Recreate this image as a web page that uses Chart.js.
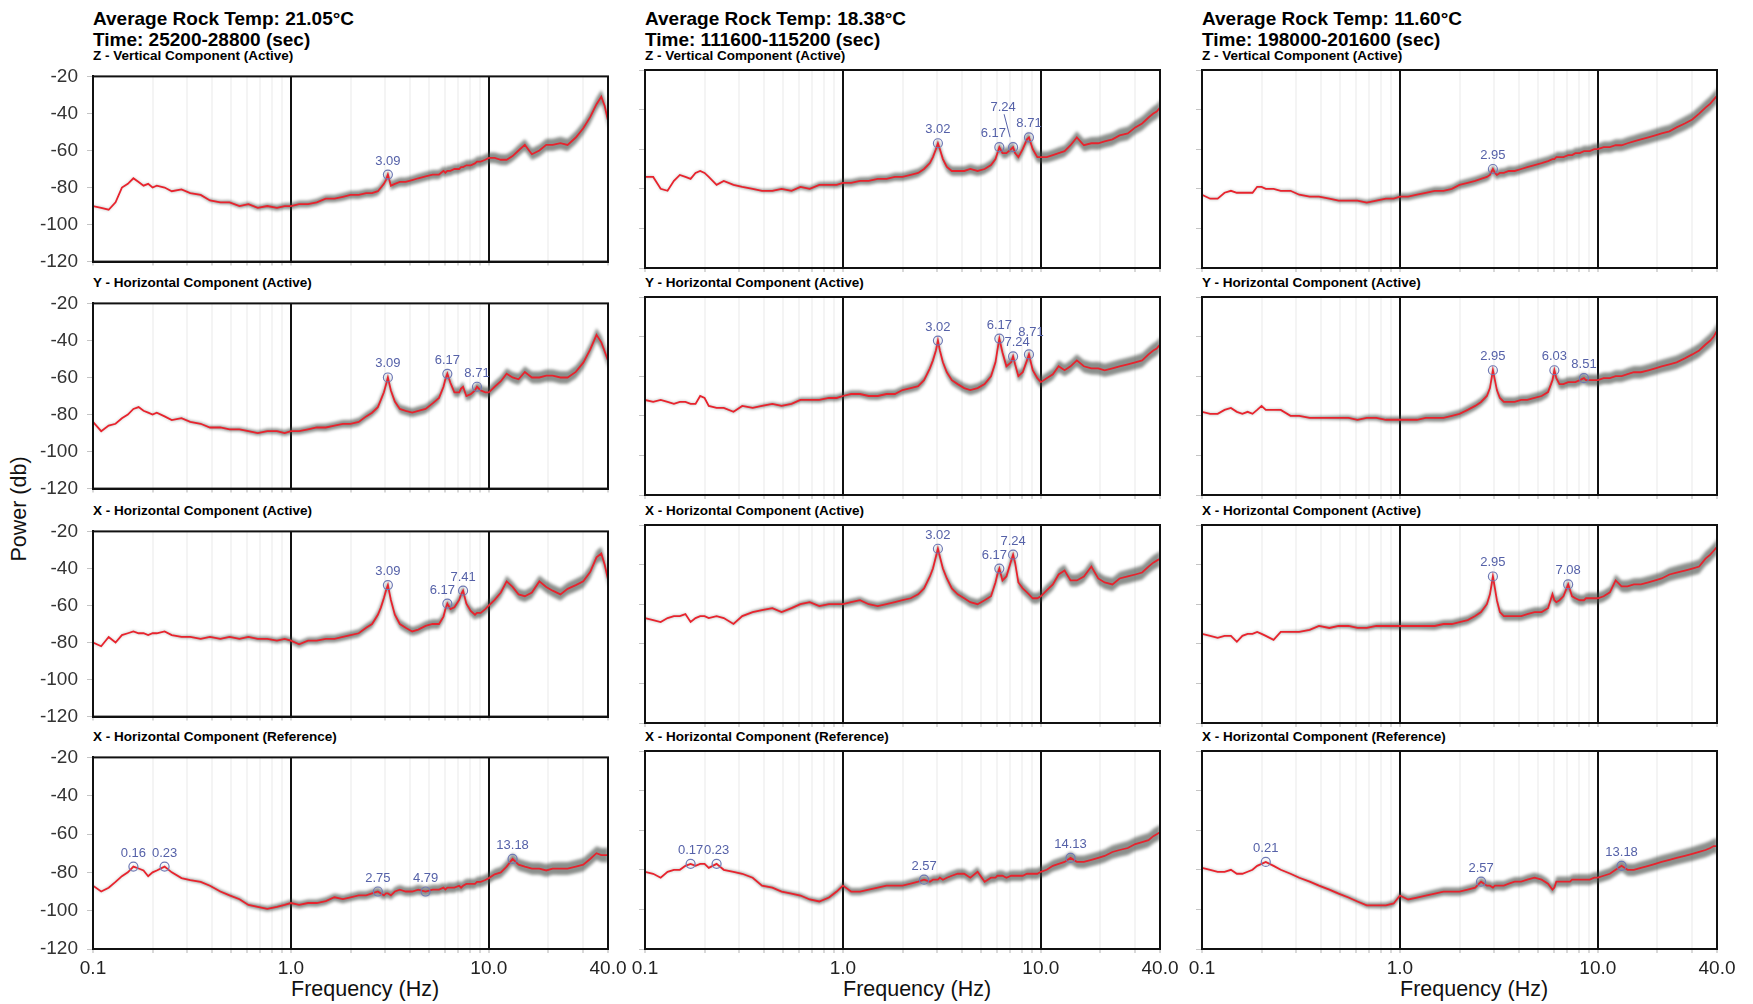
<!DOCTYPE html>
<html>
<head>
<meta charset="utf-8">
<title>Power spectra vs rock temperature</title>
<script src="https://cdn.jsdelivr.net/npm/chart.js@4.4.1/dist/chart.umd.min.js"></script>
<style>
	body { margin: 0; background: #fff; }
	#page { position: relative; width: 1753px; height: 1004px; overflow: hidden;
		font-family: "Liberation Sans", Arial, sans-serif; color: #000; }
	.txt { position: absolute; white-space: nowrap; line-height: 1; }
	.head { font-size: 19px; font-weight: bold; }
	.comp { font-size: 13.5px; font-weight: bold; }
	.axis { font-size: 21.5px; color: #111; }
	canvas { position: absolute; }
</style>
</head>
<body>
<div id="page"></div>

<script>
// frequency grid shared by every panel (Hz)
const FREQ = [
	0.10, 0.11, 0.12, 0.13, 0.14, 0.15, 0.16, 0.17, 0.18, 0.19, 0.20, 0.21, 0.23, 0.25, 0.28, 0.31, 0.35, 0.39, 0.44, 0.49, 0.55, 0.61, 0.68, 0.76, 0.85, 0.93,
	1.0, 1.1, 1.22, 1.35, 1.5, 1.66, 1.83, 2.0, 2.2, 2.4, 2.57, 2.75, 2.85, 2.95, 3.02, 3.09, 3.2, 3.35, 3.55, 3.8, 4.1, 4.4, 4.79, 5.2, 5.6, 5.9, 6.03, 6.17, 6.4, 6.7, 7.08, 7.24, 7.41, 7.7, 8.1, 8.51, 8.71, 9.1, 9.6,
	10, 10.7, 11.5, 12.3, 13.18, 14.13, 15.2, 16.5, 18, 19.5, 21, 23, 25, 27.5, 30, 32.5, 35, 37, 38.5, 40
];
// half width of the grey scatter of the single spectra around the mean (db)
const SPREAD = [
	0.3, 0.3, 0.3, 0.3, 0.3, 0.3, 0.3, 0.3, 0.3, 0.3, 0.3, 0.3, 0.3, 0.4, 0.5, 0.6, 0.7, 0.8, 0.9, 1.0, 1.1, 1.2, 1.3, 1.4, 1.5, 1.6,
	1.7, 1.8, 1.8, 1.9, 2.0, 2.0, 2.1, 2.1, 2.2, 2.2, 2.2, 2.3, 2.3, 2.3, 2.3, 2.3, 2.3, 2.4, 2.4, 2.4, 2.4, 2.5, 2.5, 2.5, 2.5, 2.5, 2.5, 2.6, 2.6, 2.6, 2.6, 2.6, 2.6, 2.7, 2.7, 2.7, 2.7, 2.8, 2.8,
	2.8, 2.9, 2.9, 3.0, 3.0, 3.1, 3.1, 3.2, 3.2, 3.3, 3.3, 3.4, 3.4, 3.5, 3.5, 3.6, 3.6, 3.7, 3.7, 3.8
];

const X_TICKS = [0.1, 0.2, 0.3, 0.4, 0.5, 0.6, 0.7, 0.8, 0.9, 1, 2, 3, 4, 5, 6, 7, 8, 9, 10, 20, 30, 40];
const X_LABELS = [0.1, 1, 10, 40];
const Y_TICKS = [-120, -100, -80, -60, -40, -20];

const ROCK_TEMP = ["21.05", "18.38", "11.60"];
const TIME_SPAN = ["25200-28800", "111600-115200", "198000-201600"];
const COMPONENT = [
	"Z - Vertical Component (Active)",
	"Y - Horizontal Component (Active)",
	"X - Horizontal Component (Active)",
	"X - Horizontal Component (Reference)"
];

// mean power (db), one value for each FREQ entry
// 21.05 C
const Z_21 = [
	-90, -91, -92, -88, -80, -78, -75, -77, -79, -78, -80, -79, -80, -82, -81, -83, -84, -87, -88, -88, -90, -89, -91, -90, -91, -90,
	-90, -89, -89, -88, -86, -86, -85, -84, -84, -83, -83, -82, -80, -78, -76, -73, -79, -78, -77, -77, -76, -75, -74, -73, -73, -71, -72, -71, -71, -70, -70, -69, -69, -68, -68, -67, -66, -66, -65,
	-64, -64, -65, -65, -63, -60, -57, -62, -60, -57, -57, -56, -57, -53, -48, -42, -35, -31, -36, -44
];
const Y_21 = [
	-84, -89, -86, -85, -82, -80, -77, -76, -78, -79, -80, -79, -81, -83, -82, -84, -85, -87, -87, -88, -88, -89, -90, -89, -89, -90,
	-89, -89, -88, -87, -87, -86, -85, -85, -84, -81, -79, -76, -72, -68, -64, -60, -67, -73, -77, -78, -79, -78, -77, -74, -71, -65, -61, -58, -63, -68, -68, -66, -65, -70, -69, -67, -65, -67, -68,
	-68, -65, -62, -58, -60, -61, -57, -60, -60, -59, -59, -60, -60, -57, -52, -45, -37, -41, -46, -51
];
const X_21 = [
	-80, -82, -77, -80, -76, -75, -74, -75, -75, -76, -75, -75, -74, -76, -77, -77, -78, -77, -78, -77, -78, -77, -78, -78, -79, -78,
	-79, -81, -79, -79, -78, -78, -77, -76, -75, -72, -70, -65, -61, -56, -52, -49, -57, -65, -70, -72, -74, -73, -71, -70, -70, -66, -62, -59, -62, -61, -57, -54, -52, -59, -63, -65, -64, -64, -62,
	-60, -57, -53, -47, -50, -54, -55, -53, -47, -50, -52, -54, -51, -49, -47, -42, -34, -32, -38, -46
];
const XR_21 = [
	-87, -90, -88, -85, -82, -80, -77, -78, -79, -82, -80, -79, -77, -80, -83, -84, -85, -87, -90, -92, -94, -97, -98, -99, -98, -97,
	-96, -97, -96, -96, -95, -93, -94, -93, -92, -92, -91, -90, -91, -92, -91, -91, -92, -90, -89, -90, -90, -89, -90, -89, -89, -88, -89, -88, -88, -88, -87, -88, -87, -86, -86, -86, -85, -85, -84,
	-83, -81, -80, -77, -73, -76, -77, -78, -78, -79, -78, -78, -78, -77, -76, -73, -70, -71, -71, -71
];
// 18.38 C
const Z_18 = [
	-74, -74, -80, -81, -76, -73, -74, -75, -72, -71, -72, -74, -78, -76, -78, -79, -80, -81, -81, -80, -81, -79, -80, -78, -78, -78,
	-77, -77, -76, -76, -75, -75, -74, -74, -73, -72, -70, -67, -64, -60, -57, -60, -65, -69, -71, -71, -71, -70, -71, -70, -68, -65, -62, -59, -62, -62, -60, -59, -62, -64, -60, -55, -54, -60, -64,
	-64, -64, -63, -62, -61, -58, -54, -58, -57, -57, -56, -55, -53, -52, -49, -47, -44, -42, -41, -39
];
const Y_18 = [
	-72, -73, -72, -73, -74, -73, -73, -74, -74, -70, -71, -75, -76, -76, -78, -75, -76, -75, -74, -75, -74, -72, -72, -72, -71, -71,
	-70, -69, -69, -70, -70, -69, -69, -67, -66, -65, -62, -56, -52, -47, -42, -47, -53, -58, -62, -64, -66, -67, -66, -64, -60, -53, -47, -41, -48, -55, -53, -50, -54, -60, -58, -52, -49, -57, -61,
	-63, -61, -59, -55, -57, -55, -52, -55, -56, -56, -57, -56, -55, -54, -53, -52, -49, -47, -46, -44
];
const X_18 = [
	-67, -68, -69, -67, -66, -66, -65, -69, -67, -66, -66, -67, -66, -67, -70, -66, -64, -63, -62, -64, -62, -60, -59, -61, -60, -60,
	-60, -59, -58, -60, -61, -60, -59, -58, -57, -55, -52, -46, -42, -36, -32, -36, -42, -47, -52, -55, -57, -59, -60, -58, -56, -49, -45, -42, -48, -46, -38, -35, -39, -49, -52, -54, -55, -57, -57,
	-56, -53, -50, -45, -43, -48, -48, -46, -41, -47, -49, -50, -47, -46, -45, -44, -41, -39, -38, -37
];
const XR_18 = [
	-81, -82, -84, -81, -80, -80, -78, -77, -78, -77, -77, -79, -77, -80, -81, -82, -84, -88, -89, -91, -92, -93, -95, -96, -94, -91,
	-88, -91, -91, -90, -89, -88, -88, -88, -87, -86, -85, -86, -85, -85, -85, -84, -85, -84, -83, -82, -82, -84, -81, -86, -84, -84, -83, -83, -83, -84, -83, -83, -83, -83, -83, -82, -82, -82, -82,
	-81, -80, -78, -77, -76, -74, -76, -76, -75, -74, -73, -71, -70, -69, -67, -66, -65, -63, -62, -61
];
// 11.60 C
const Z_11 = [
	-83, -85, -85, -82, -81, -82, -82, -82, -82, -79, -79, -80, -80, -81, -81, -83, -84, -84, -85, -86, -86, -86, -87, -86, -85, -85,
	-84, -84, -83, -82, -81, -81, -80, -78, -77, -76, -75, -74, -73, -70, -72, -73, -72, -72, -71, -71, -70, -69, -68, -67, -66, -65, -65, -64, -64, -64, -63, -63, -63, -62, -62, -61, -61, -61, -60,
	-60, -59, -59, -58, -58, -57, -56, -55, -54, -53, -52, -51, -49, -47, -45, -42, -39, -37, -35, -33
];
const Y_11 = [
	-78, -79, -79, -77, -76, -78, -79, -78, -79, -77, -75, -77, -77, -77, -80, -80, -81, -81, -81, -81, -81, -82, -81, -81, -82, -82,
	-82, -82, -82, -81, -81, -81, -80, -79, -77, -75, -73, -70, -66, -57, -62, -67, -71, -73, -73, -73, -72, -72, -71, -70, -68, -62, -57, -61, -64, -64, -63, -63, -63, -63, -62, -61, -62, -62, -62,
	-62, -61, -61, -60, -60, -59, -58, -58, -57, -56, -55, -54, -53, -51, -49, -47, -44, -42, -40, -37
];
const X_11 = [
	-75, -76, -77, -76, -76, -79, -76, -75, -75, -74, -75, -76, -78, -74, -74, -74, -73, -71, -72, -71, -71, -72, -72, -71, -71, -71,
	-71, -71, -71, -71, -71, -70, -70, -69, -68, -66, -64, -60, -55, -46, -52, -58, -64, -66, -66, -66, -66, -65, -64, -64, -62, -55, -58, -59, -58, -56, -50, -53, -56, -57, -58, -58, -57, -57, -57,
	-57, -56, -54, -48, -51, -51, -50, -50, -49, -48, -47, -45, -44, -43, -42, -41, -37, -35, -33, -31
];
const XR_11 = [
	-79, -80, -81, -81, -80, -82, -82, -81, -80, -78, -77, -76, -78, -80, -82, -84, -86, -88, -90, -92, -94, -96, -98, -98, -98, -97,
	-93, -95, -94, -93, -92, -91, -91, -91, -90, -89, -86, -88, -88, -89, -88, -88, -88, -88, -87, -86, -86, -85, -84, -85, -87, -90, -89, -86, -86, -86, -86, -86, -85, -85, -85, -85, -85, -85, -84,
	-84, -83, -82, -80, -78, -80, -80, -79, -78, -77, -76, -75, -74, -73, -72, -71, -70, -69, -68, -68
];

// picked peaks (Hz)
const PK_Z_21 = [3.09];
const PK_Y_21 = [3.09, 6.17, 8.71];
const PK_X_21 = [3.09, 6.17, 7.41];
const PK_XR_21 = [0.16, 0.23, 2.75, 4.79, 13.18];
const PK_Z_18 = [3.02, 6.17, 7.24, 8.71];
const PK_Y_18 = [3.02, 6.17, 7.24, 8.71];
const PK_X_18 = [3.02, 6.17, 7.24];
const PK_XR_18 = [0.17, 0.23, 2.57, 14.13];
const PK_Z_11 = [2.95];
const PK_Y_11 = [2.95, 6.03, 8.51];
const PK_X_11 = [2.95, 7.08];
const PK_XR_11 = [0.21, 2.57, 13.18];

const PANEL_SERIES = [
	[Z_21, Z_18, Z_11],
	[Y_21, Y_18, Y_11],
	[X_21, X_18, X_11],
	[XR_21, XR_18, XR_11]
];
const PANEL_PEAKS = [
	[PK_Z_21, PK_Z_18, PK_Z_11],
	[PK_Y_21, PK_Y_18, PK_Y_11],
	[PK_X_21, PK_X_18, PK_X_11],
	[PK_XR_21, PK_XR_18, PK_XR_11]
];

// layout (page pixels)
const COL_LEFT = [93, 645, 1202];
const ROW_TOP = [70, 297, 525, 751];
const PLOT_W = 515;
const PLOT_H = 198;
const FONT = '"Liberation Sans", Arial, sans-serif';

// where a peak label has to move away from its neighbour: "row-col-freq"
const LABEL_NUDGE = {
	"0-1-6.17": { dx: -6, dy: 0 },
	"0-1-7.24": { dx: -10, dy: -26, leader: true },
	"1-1-7.24": { dx: 4, dy: 0 },
	"1-1-8.71": { dx: 2, dy: -8 },
	"2-0-6.17": { dx: -5, dy: 0 },
	"2-1-6.17": { dx: -5, dy: 0 }
};

const page = document.getElementById("page");

function addText(cls, text, left, top) {
	let d = document.createElement("div");
	d.className = "txt " + cls;
	d.textContent = text;
	d.style.left = left + "px";
	d.style.top = top + "px";
	page.appendChild(d);
	return d;
}

function curve(values, sign) {
	return FREQ.map((f, i) => ({ x: f, y: values[i] + sign * SPREAD[i] }));
}

function peakPoints(values, peaks) {
	return peaks.map(f => ({ x: f, y: values[FREQ.indexOf(f)] }));
}

function framePlugin(r, c) {
	return {
		id: "frame" + r + c,
		// grey band is drawn soft, like the overplotted single spectra
		beforeDatasetsDraw(chart) {
			chart.ctx.save();
			chart.ctx.filter = "blur(1.7px)";
		},
		afterDatasetDraw(chart, args) {
			if (args.index === 2) chart.ctx.restore();
		},
		afterDatasetsDraw(chart) {
			const ctx = chart.ctx;
			const meta = chart.getDatasetMeta(0);
			const data = chart.data.datasets[0].data;
			ctx.save();
			ctx.font = "13px " + FONT;
			ctx.fillStyle = "#5561a8";
			ctx.strokeStyle = "#5561a8";
			ctx.lineWidth = 1;
			ctx.textAlign = "center";
			ctx.textBaseline = "alphabetic";
			meta.data.forEach((el, i) => {
				let f = data[i].x;
				let n = LABEL_NUDGE[r + "-" + c + "-" + f] || { dx: 0, dy: 0 };
				let lx = el.x + n.dx;
				let ly = el.y - 10 + n.dy;
				ctx.fillText(f.toFixed(2), lx, ly);
				if (n.leader) {
					ctx.beginPath();
					ctx.moveTo(lx + 1, ly + 3);
					ctx.lineTo(el.x - 3, el.y - 10);
					ctx.stroke();
				}
			});
			ctx.restore();
		},
		afterDraw(chart) {
			const a = chart.chartArea;
			const ctx = chart.ctx;
			ctx.save();
			ctx.strokeStyle = "#111";
			ctx.lineWidth = 2;
			ctx.strokeRect(a.left, a.top, a.right - a.left, a.bottom - a.top);
			ctx.restore();
		}
	};
}

function makePanel(r, c) {
	const values = PANEL_SERIES[r][c];
	const peaks = PANEL_PEAKS[r][c];
	const bottomRow = (r === 3);
	const L = (c === 0) ? 70 : 24;
	const R = 32;
	const T = 14;
	const B = bottomRow ? 40 : 14;

	let cv = document.createElement("canvas");
	cv.width = L + PLOT_W + R;
	cv.height = T + PLOT_H + B;
	cv.style.left = (COL_LEFT[c] - L) + "px";
	cv.style.top = (ROW_TOP[r] - T) + "px";
	page.appendChild(cv);

	new Chart(cv, {
		type: "line",
		data: {
			datasets: [
				{
					label: "peaks",
					data: peakPoints(values, peaks),
					showLine: false,
					pointRadius: 4.5,
					pointBorderWidth: 1.2,
					pointBorderColor: "#6f7ab5",
					pointBackgroundColor: "rgba(0,0,0,0)",
					order: 0
				},
				{
					label: "mean",
					data: FREQ.map((f, i) => ({ x: f, y: values[i] })),
					borderColor: "#e8232d",
					borderWidth: 1.8,
					pointRadius: 0,
					tension: 0,
					fill: false,
					order: 1
				},
				{
					label: "upper",
					data: curve(values, 1),
					borderWidth: 0,
					pointRadius: 0,
					backgroundColor: "rgba(62,68,64,0.6)",
					fill: "+1",
					order: 2
				},
				{
					label: "lower",
					data: curve(values, -1),
					borderWidth: 0,
					pointRadius: 0,
					fill: false,
					order: 3
				}
			]
		},
		options: {
			responsive: false,
			animation: false,
			devicePixelRatio: 1,
			events: [],
			layout: { padding: { left: 0, right: R, top: T, bottom: 0 } },
			plugins: { legend: { display: false }, tooltip: { enabled: false } },
			scales: {
				x: {
					type: "logarithmic",
					min: 0.1,
					max: 40,
					afterBuildTicks: s => { s.ticks = X_TICKS.map(v => ({ value: v })); },
					afterFit: s => { s.height = B; },
					ticks: {
						display: bottomRow,
						autoSkip: false,
						maxRotation: 0,
						minRotation: 0,
						padding: 4,
						color: "#222",
						font: { family: FONT, size: 19 },
						callback: v => X_LABELS.includes(v) ? v.toFixed(1) : ""
					},
					grid: {
						color: ctx => (ctx.tick && (ctx.tick.value === 1 || ctx.tick.value === 10)) ? "#111" : "rgba(0,0,0,0.045)",
						lineWidth: 2,
						tickLength: 4,
						tickColor: "rgba(0,0,0,0.15)"
					},
					border: { display: true, color: "#111", width: 2 }
				},
				y: {
					min: -120,
					max: -20,
					afterBuildTicks: s => { s.ticks = Y_TICKS.map(v => ({ value: v })); },
					afterFit: s => { s.width = L; },
					ticks: {
						display: c === 0,
						padding: 9,
						color: "#333",
						font: { family: FONT, size: 19 }
					},
					grid: {
						drawOnChartArea: false,
						tickLength: 6,
						tickColor: "#c4c4c4"
					},
					border: { display: true, color: "#111", width: 2 }
				}
			}
		},
		plugins: [framePlugin(r, c)]
	});
}

// column headings and component names
for (let c = 0; c < 3; c++) {
	addText("head", "Average Rock Temp: " + ROCK_TEMP[c] + "\u00b0C", COL_LEFT[c], 8.5);
	addText("head", "Time: " + TIME_SPAN[c] + " (sec)", COL_LEFT[c], 29.5);
	for (let r = 0; r < 4; r++) {
		addText("comp", COMPONENT[r], COL_LEFT[c], ROW_TOP[r] - 21);
	}
	addText("axis", "Frequency (Hz)", COL_LEFT[c] + 198, 978.5);
}
let py = addText("axis", "Power (db)", 20, 509);
py.style.transform = "translate(-50%, -50%) rotate(-90deg)";

for (let r = 0; r < 4; r++) {
	for (let c = 0; c < 3; c++) {
		makePanel(r, c);
	}
}
</script>
</body>
</html>
